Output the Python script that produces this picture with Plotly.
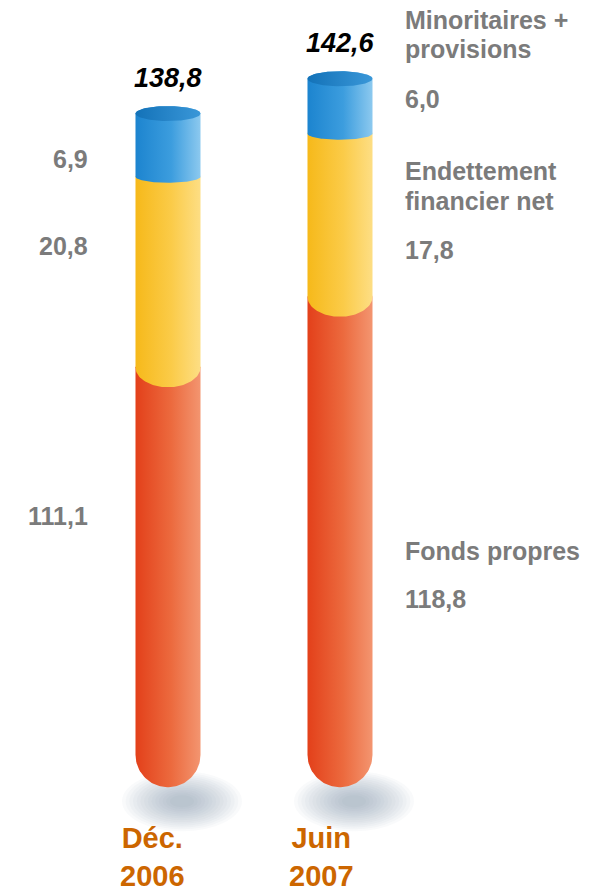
import numpy as np
import plotly.graph_objects as go

# ---------------- data ----------------
periods = ["Déc.<br>2006", "Juin<br>2007"]
series_names = ["Fonds propres", "Endettement financier net", "Minoritaires + provisions"]
fonds_propres = [111.1, 118.8]
endettement = [20.8, 17.8]
minoritaires = [6.9, 6.0]
totals = [138.8, 142.6]

series_values = [fonds_propres, endettement, minoritaires]

# ---------------- style ----------------
W_PX, H_PX = 605, 893
X_RANGE = [-0.9767, 2.5407]
Y_RANGE = [53.7, 151.2]          # truncated value axis (hidden)
AXIS_FLOOR = 68.8                # visible floor of the truncated axis
BAR_W = 0.378
PX_Y = H_PX / (Y_RANGE[1] - Y_RANGE[0])
PX_X = W_PX / (X_RANGE[1] - X_RANGE[0])

GRADIENTS = [
    [[0, "#E3401A"], [0.55, "#EC6A3E"], [1, "#F39570"]],   # red
    [[0, "#F6B91A"], [0.55, "#FBCB48"], [1, "#FDDE84"]],   # yellow
    [[0, "#1C84CF"], [0.55, "#3C9DDE"], [1, "#8CC9EF"]],   # blue
]
TOP_FACE = [[0, "#1372B8"], [1, "#3A97D8"]]
BOTTOM_CURVE_PX = [BAR_W * PX_X / 2, 20, 6]   # front-arc depth of each segment's lower edge
TOP_CURVE_PX = 7.5
GRAY = "#7B7B7B"
ORANGE = "#CC6600"
FONT = "Liberation Sans, Arial, sans-serif"


def seg_path(c, lo, hi, rb_px, rt_px, n=60):
    hx = BAR_W / 2
    rb, rt = rb_px / PX_Y, rt_px / PX_Y
    t1 = np.linspace(np.pi, 2 * np.pi, n)
    t2 = np.linspace(0, np.pi, n)
    xs = np.concatenate([c + hx * np.cos(t1), c + hx * np.cos(t2)])
    ys = np.concatenate([lo + rb * np.sin(t1), hi + rt * np.sin(t2)])
    return np.append(xs, xs[0]), np.append(ys, ys[0])


fig = go.Figure()

for i in range(len(periods)):
    cum = 0.0
    for j, vals in enumerate(series_values):
        lo, hi = cum, cum + vals[i]
        cum = hi
        xs, ys = seg_path(i, max(lo, AXIS_FLOOR), hi, BOTTOM_CURVE_PX[j], TOP_CURVE_PX)
        fig.add_trace(go.Scatter(
            x=xs, y=ys, mode="lines", fill="toself",
            line=dict(width=0, color="rgba(0,0,0,0)"),
            fillgradient=dict(type="horizontal", colorscale=GRADIENTS[j]),
            hoverinfo="skip", showlegend=False, name=series_names[j]))
    # top face
    t = np.linspace(0, 2 * np.pi, 120)
    fig.add_trace(go.Scatter(
        x=i + BAR_W / 2 * np.cos(t), y=cum + TOP_CURVE_PX / PX_Y * np.sin(t),
        mode="lines", fill="toself", line=dict(width=0, color="rgba(0,0,0,0)"),
        fillgradient=dict(type="horizontal", colorscale=TOP_FACE),
        hoverinfo="skip", showlegend=False))

# soft shadows under the tubes
shapes = []
for i in range(len(periods)):
    bottom = AXIS_FLOOR - BAR_W * PX_X / 2 / PX_Y
    cx = i + 14 / PX_X
    cy = bottom - 14 / PX_Y
    for s in np.linspace(1.0, 0.2, 14):
        rx, ry = 60 / PX_X * s, 30 / PX_Y * s
        shapes.append(dict(type="circle", xref="x", yref="y", layer="below",
                           x0=cx - rx, x1=cx + rx, y0=cy - ry, y1=cy + ry,
                           fillcolor="rgba(125,138,155,0.045)", line=dict(width=0)))

ann = []


def py(p):
    return 1 - p / H_PX


# totals above the tubes
for i, tot in enumerate(totals):
    ann.append(dict(x=i, y=tot, xref="x", yref="y", yshift=36, showarrow=False,
                    yanchor="middle", xanchor="center",
                    text=f"<b><i>{tot:.1f}</i></b>".replace(".", ","),
                    font=dict(family=FONT, size=27, color="#000000")))

# period labels
for i, lab in enumerate(periods):
    ann.append(dict(x=i, y=py(857), xref="x", yref="paper", xshift=-15 if i == 0 else -19,
                    xanchor="center", yanchor="middle",
                    showarrow=False, text=f"<b>{lab}</b>",
                    font=dict(family=FONT, size=29, color=ORANGE)))

# left-side values (first period)
for v, p in zip(minoritaires[:1] + endettement[:1] + fonds_propres[:1], [159, 246, 516]):
    ann.append(dict(x=90 / W_PX, y=py(p), xref="paper", yref="paper",
                    xanchor="right", yanchor="middle",
                    showarrow=False, text=f"<b>{v:.1f}</b>".replace(".", ","),
                    font=dict(family=FONT, size=25, color=GRAY)))

# right-side series names and values (second period)
right_texts = [("Minoritaires +", 20), ("provisions", 49),
               (f"{minoritaires[1]:.1f}".replace(".", ","), 99),
               ("Endettement", 171), ("financier net", 201),
               (f"{endettement[1]:.1f}".replace(".", ","), 250),
               ("Fonds propres", 551),
               (f"{fonds_propres[1]:.1f}".replace(".", ","), 599)]
for txt, p in right_texts:
    ann.append(dict(x=403 / W_PX, y=py(p), xref="paper", yref="paper",
                    xanchor="left", yanchor="middle",
                    showarrow=False, text=f"<b>{txt}</b>",
                    font=dict(family=FONT, size=25, color=GRAY)))

fig.update_layout(
    width=W_PX, height=H_PX, margin=dict(l=0, r=0, t=0, b=0),
    paper_bgcolor="white", plot_bgcolor="white",
    xaxis=dict(range=X_RANGE, visible=False, fixedrange=True),
    yaxis=dict(range=Y_RANGE, visible=False, fixedrange=True),
    shapes=shapes, annotations=ann, showlegend=False)

fig.write_html("out.html", config={"displayModeBar": False})
